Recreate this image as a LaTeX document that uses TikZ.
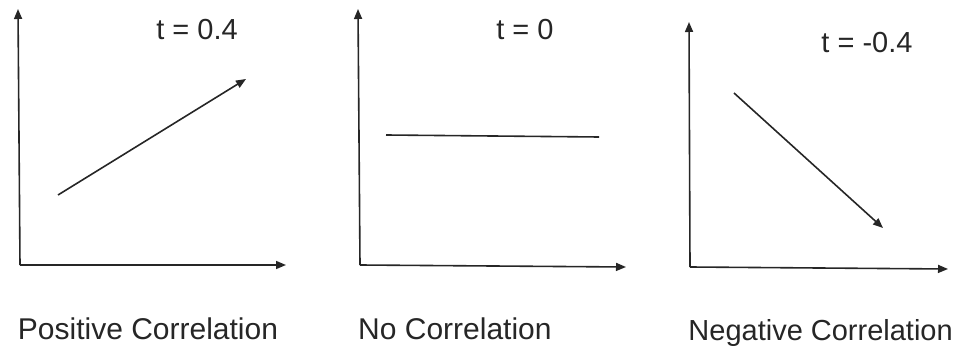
\documentclass[tikz,border=0pt]{standalone}
\usepackage{fontspec}
\setmainfont{Liberation Sans}
\usetikzlibrary{arrows.meta}
\begin{document}
\begin{tikzpicture}[x=1pt,y=-1pt,
  axis/.style={line width=1.6pt,color=black!85,-{Triangle[length=10pt,width=8pt]}},
  trend/.style={line width=1.6pt,color=black!85,-{Triangle[length=10pt,width=8pt]}},
  flat/.style={line width=1.6pt,color=black!85},
  lbl/.style={font=\fontsize{29}{31}\selectfont,text=black!85,inner sep=0pt},
  captiontext/.style={font=\fontsize{30}{32}\selectfont,text=black!85,inner sep=0pt}]
\useasboundingbox (0,0) rectangle (958,347);
% panel 1
\coordinate (o1) at (20,265);
\coordinate (y1) at (18,9);
\coordinate (x1) at (286,265);
\draw[axis] (o1) -- (y1);
\draw[axis] (o1) -- (x1);
\coordinate (a1) at (58,195);
\coordinate (b1) at (246,79);
\draw[trend] (a1) -- (b1);
\node[lbl] (t1) at (197,30) {t = 0.4};
\node[captiontext] (c1) at (148,329) {Positive Correlation};
% panel 2
\coordinate (o2) at (360,265);
\coordinate (y2) at (358,9);
\coordinate (x2) at (626,267);
\draw[axis] (o2) -- (y2);
\draw[axis] (o2) -- (x2);
\coordinate (a2) at (386,135);
\coordinate (b2) at (599,137);
\draw[flat] (a2) -- (b2);
\node[lbl] (t2) at (525,30) {t = 0};
\node[captiontext,anchor=west] (c2) at (358,329) {No Correlation};
% panel 3
\coordinate (o3) at (690,267);
\coordinate (y3) at (689,22);
\coordinate (x3) at (948,269);
\draw[axis] (o3) -- (y3);
\draw[axis] (o3) -- (x3);
\coordinate (a3) at (734,93);
\coordinate (b3) at (883,228);
\draw[trend] (a3) -- (b3);
\node[lbl] (t3) at (867,43) {t = -0.4};
\node[captiontext,font=\fontsize{29}{31}\selectfont,anchor=east] (c3) at (953,333) {Negative Correlation};
\end{tikzpicture}
\end{document}
